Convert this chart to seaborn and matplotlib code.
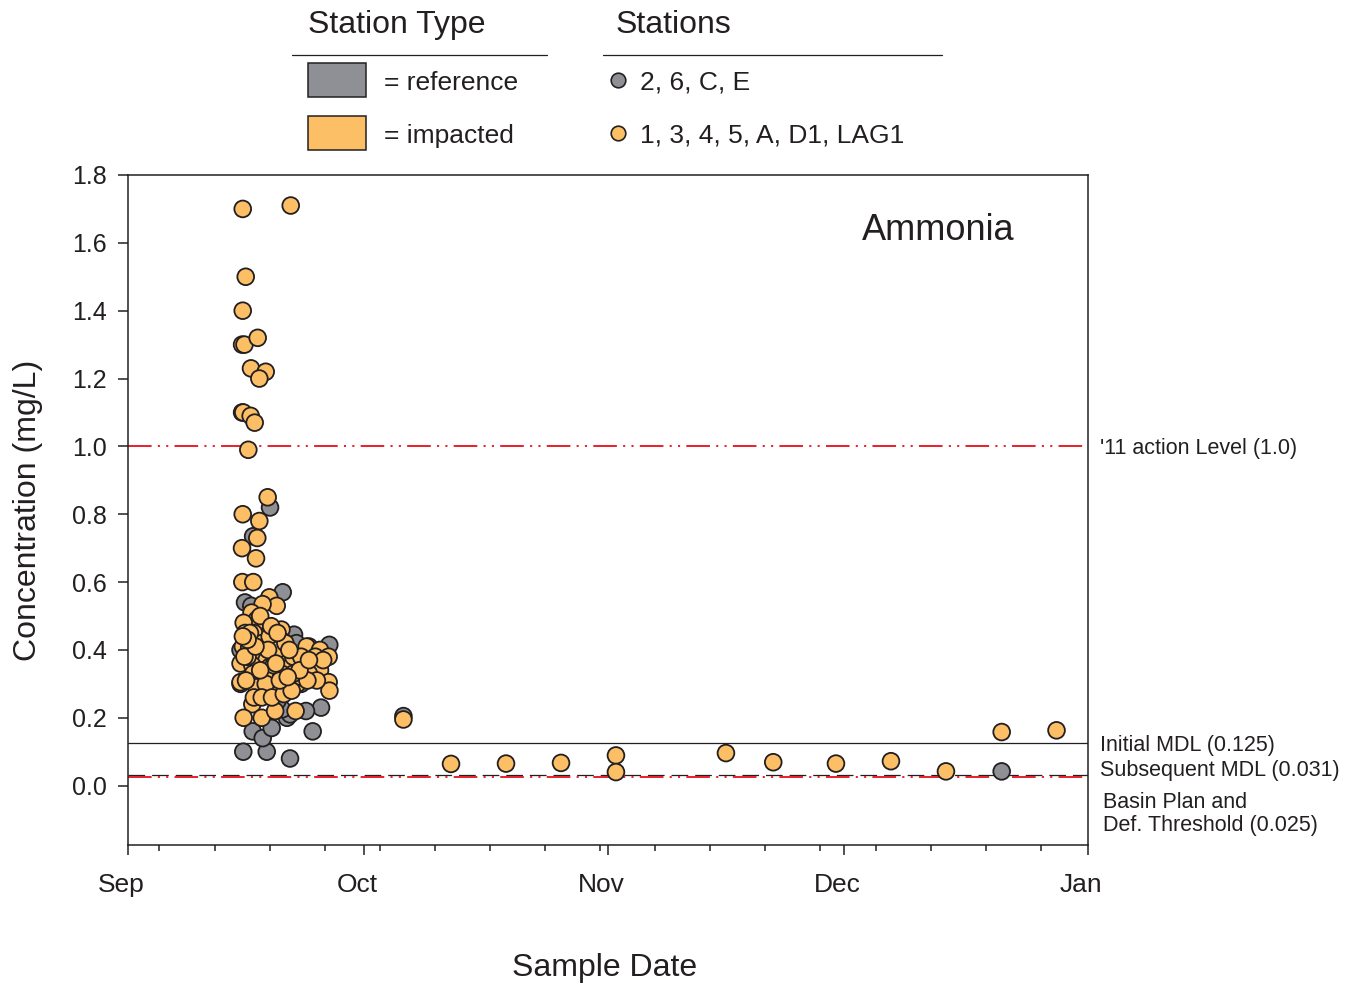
import numpy as np
import pandas as pd
import matplotlib
matplotlib.use("Agg")
import matplotlib.pyplot as plt
import matplotlib.dates as mdates
import matplotlib.transforms as mtransforms
from matplotlib.lines import Line2D
from matplotlib.patches import Rectangle
from matplotlib.ticker import FormatStrFormatter
import seaborn as sns

# Ammonia results, sample time given as days after 1 Sep 2011
ref_day = [14.65, 17.63, 20.59, 23.47, 15.85, 17.12, 18.26, 24.53, 22.62, 20.20,
           20.60, 19.60, 18.05, 15.90, 19.66, 14.87, 15.67, 21.10, 25.58, 21.40,
           14.30, 14.30, 16.50, 18.50, 20.00, 22.00, 19.00, 17.50, 24.00, 23.00,
           35.00, 111.03]
ref_conc = [0.10, 0.10, 0.08, 0.16, 0.16, 0.14, 0.17, 0.23, 0.22, 0.20,
            0.21, 0.225, 0.82, 0.735, 0.57, 0.54, 0.53, 0.445, 0.415, 0.42,
            0.40, 0.30, 0.35, 0.30, 0.36, 0.30, 0.25, 0.27, 0.36, 0.41,
            0.205, 0.042]

imp_day = [14.58, 20.68, 14.96, 14.58, 14.50, 14.80, 16.48, 15.63, 17.50, 16.69,
           14.50, 14.65, 15.59, 16.10, 15.29, 17.75, 14.58, 16.69, 16.43, 14.49,
           16.27, 14.53, 15.92,
           17.96, 18.90, 17.10, 15.70, 16.40, 14.70, 17.50, 19.50, 14.90, 16.60,
           19.70, 22.70, 24.40, 25.50, 14.60, 15.40, 18.50, 16.70, 17.60, 19.70,
           21.50, 23.50, 24.40, 14.30, 15.80, 18.00, 20.60, 22.50, 25.50, 25.60,
           14.30, 15.90, 17.10, 18.70, 20.80, 20.00, 21.50, 16.30, 18.00, 19.10,
           15.80, 14.70, 17.00, 18.70, 21.30,
           16.00, 17.00, 18.00, 19.00, 20.00, 21.00, 22.00, 23.00, 24.00, 22.00,
           21.00, 19.50, 18.50, 17.50, 16.80, 15.20, 15.00, 16.00, 17.00, 18.30,
           19.80, 20.80, 22.80, 23.80, 24.80, 14.80, 15.50, 16.80, 18.20, 19.00,
           20.50, 21.80, 23.00, 19.30, 20.30, 17.80, 16.20, 15.20, 14.60, 18.80,
           35.00, 41.05, 48.04, 55.03, 62.01, 62.01, 75.99, 82.00, 89.97, 96.96,
           103.95, 111.03, 118.00]
imp_conc = [1.70, 1.71, 1.50, 1.40, 1.30, 1.30, 1.32, 1.23, 1.22, 1.20,
            1.10, 1.10, 1.09, 1.07, 0.99, 0.85, 0.80, 0.78, 0.73, 0.70,
            0.67, 0.60, 0.60,
            0.555, 0.53, 0.535, 0.51, 0.49, 0.48, 0.465, 0.46, 0.45, 0.44,
            0.425, 0.41, 0.40, 0.38, 0.41, 0.405, 0.39, 0.38, 0.37, 0.37,
            0.36, 0.36, 0.34, 0.36, 0.355, 0.35, 0.35, 0.345, 0.305, 0.28,
            0.305, 0.33, 0.32, 0.325, 0.31, 0.295, 0.30, 0.29, 0.29, 0.28,
            0.24, 0.20, 0.20, 0.22, 0.22,
            0.45, 0.42, 0.44, 0.40, 0.42, 0.38, 0.38, 0.33, 0.31, 0.32,
            0.33, 0.33, 0.355, 0.30, 0.34, 0.38, 0.31, 0.26, 0.26, 0.26,
            0.27, 0.28, 0.31, 0.38, 0.37, 0.38, 0.45, 0.50, 0.47, 0.45,
            0.40, 0.34, 0.37, 0.31, 0.32, 0.40, 0.41, 0.43, 0.44, 0.36,
            0.195, 0.064, 0.065, 0.067, 0.089, 0.040, 0.096, 0.069, 0.065, 0.072,
            0.042, 0.158, 0.163]

# Reference levels (mg/L)
action_level = 1.0
initial_mdl = 0.125
subsequent_mdl = 0.031
basin_threshold = 0.025

station_types = ["reference", "impacted"]
type_colors = ["#8E9095", "#FDBF65"]
station_groups = ["2, 6, C, E", "1, 3, 4, 5, A, D1, LAG1"]

start = pd.Timestamp("2011-09-01")
end = pd.Timestamp("2012-01-01")

df = pd.concat([
    pd.DataFrame({"day": ref_day, "conc": ref_conc, "type": "reference"}),
    pd.DataFrame({"day": imp_day, "conc": imp_conc, "type": "impacted"}),
], ignore_index=True)
df["date"] = start + pd.to_timedelta(df["day"], unit="D")

sns.set_theme(style="ticks")
plt.rcParams["font.family"] = ["Liberation Sans", "DejaVu Sans"]
plt.rcParams["lines.scale_dashes"] = False
ink = "#231F20"
red = "#E8202A"
plt.rcParams["text.color"] = ink

W, H = 1356, 984
fig = plt.figure(figsize=(W / 100, H / 100), dpi=100)
fig.patch.set_facecolor("white")
ax = fig.add_axes([128 / W, 1 - 845 / H, 960 / W, 670 / H])


def fx(px):
    return px / W


def fy(py):
    return 1 - py / H


# Guideline lines behind the samples
dashdotdot = (0, (17, 4.5, 1.5, 4.5, 1.5, 4.5))
ax.axhline(action_level, xmax=0.995, color=red, lw=1.4, ls=dashdotdot, zorder=1)
ax.axhline(initial_mdl, color=ink, lw=0.9, zorder=1)
ax.axhline(subsequent_mdl, color=ink, lw=0.9, ls=(0, (12, 5)), zorder=1)
ax.axhline(basin_threshold, xmax=0.995, color=red, lw=1.4, ls=dashdotdot, zorder=1)

sns.scatterplot(data=df, x="date", y="conc", hue="type", hue_order=station_types,
                palette=dict(zip(station_types, type_colors)), s=145,
                edgecolor=ink, linewidth=1.3, legend=False, ax=ax, zorder=3)

ax.set_xlim(start, end)
ax.set_ylim(-0.175, 1.8)
ax.set_yticks(np.arange(0, 1.81, 0.2))
ax.yaxis.set_major_formatter(FormatStrFormatter("%.1f"))
ax.xaxis.set_major_locator(mdates.MonthLocator())
ax.xaxis.set_major_formatter(mdates.DateFormatter("%b"))
ax.xaxis.set_minor_locator(mdates.WeekdayLocator(byweekday=mdates.MO))
ax.set_xlabel("")
ax.set_ylabel("")

for side in ["left", "right", "top", "bottom"]:
    ax.spines[side].set_visible(True)
    ax.spines[side].set_color(ink)
    ax.spines[side].set_linewidth(1.1)

ax.tick_params(axis="x", which="major", length=7.5, width=1.1, color=ink,
               labelsize=19, labelcolor=ink, pad=13)
ax.tick_params(axis="x", which="minor", length=4.3, width=1.1, color=ink)
ax.tick_params(axis="y", which="major", length=7, width=1.1, color=ink,
               labelsize=18, labelcolor=ink, pad=8)

shift = mtransforms.ScaledTranslation(-7 / 100, 0, fig.dpi_scale_trans)
for lab in ax.get_xticklabels():
    lab.set_transform(lab.get_transform() + shift)

fig.text(fx(28), fy(510), "Concentration (mg/L)", rotation=90, fontsize=23,
         ha="center", va="center")
fig.text(fx(605), fy(968), "Sample Date", fontsize=23, ha="center", va="center")
ax.text(0.844, 0.917, "Ammonia", transform=ax.transAxes, fontsize=26,
        ha="center", va="center")

# Labels for the guideline levels, outside the right edge
side_tr = mtransforms.blended_transform_factory(ax.transAxes, ax.transData)
lab_kw = dict(xycoords=side_tr, textcoords="offset points", fontsize=15.5,
              ha="left", va="center", annotation_clip=False)
ax.annotate("'11 action Level (1.0)", xy=(1, action_level), xytext=(9, -1.5), **lab_kw)
ax.annotate("Initial MDL (0.125)", xy=(1, initial_mdl), xytext=(9, -1.5), **lab_kw)
ax.annotate("Subsequent MDL (0.031)", xy=(1, subsequent_mdl), xytext=(9, 3), **lab_kw)
ax.annotate("Basin Plan and\nDef. Threshold (0.025)", xy=(1, basin_threshold),
            xytext=(11, -26.5), linespacing=1.1, **lab_kw)

# Key: station type swatches and station groups
fig.text(fx(308), fy(25), "Station Type", fontsize=23, ha="left", va="center")
fig.text(fx(616), fy(25), "Stations", fontsize=23, ha="left", va="center")
fig.add_artist(Line2D([fx(292), fx(547)], [fy(55), fy(55)], color=ink, lw=0.9))
fig.add_artist(Line2D([fx(603), fx(942)], [fy(55), fy(55)], color=ink, lw=0.9))
for i, (name, color, group) in enumerate(zip(station_types, type_colors, station_groups)):
    yc = [80, 133][i]
    fig.add_artist(Rectangle((fx(308), fy(yc + 17)), fx(366) - fx(308), fy(yc - 17) - fy(yc + 17),
                             facecolor=color, edgecolor=ink, lw=1.1, transform=fig.transFigure))
    fig.text(fx(384), fy(yc + 2.5), "= " + name, fontsize=19, ha="left", va="center")
    fig.add_artist(Line2D([fx(618)], [fy(yc)], marker="o", markersize=10.5, linestyle="none",
                          markerfacecolor=color, markeredgecolor=ink, markeredgewidth=1.2))
    fig.text(fx(640), fy(yc + 2.5), group, fontsize=19, ha="left", va="center")

fig.savefig("out.png", dpi=100, facecolor="white")
